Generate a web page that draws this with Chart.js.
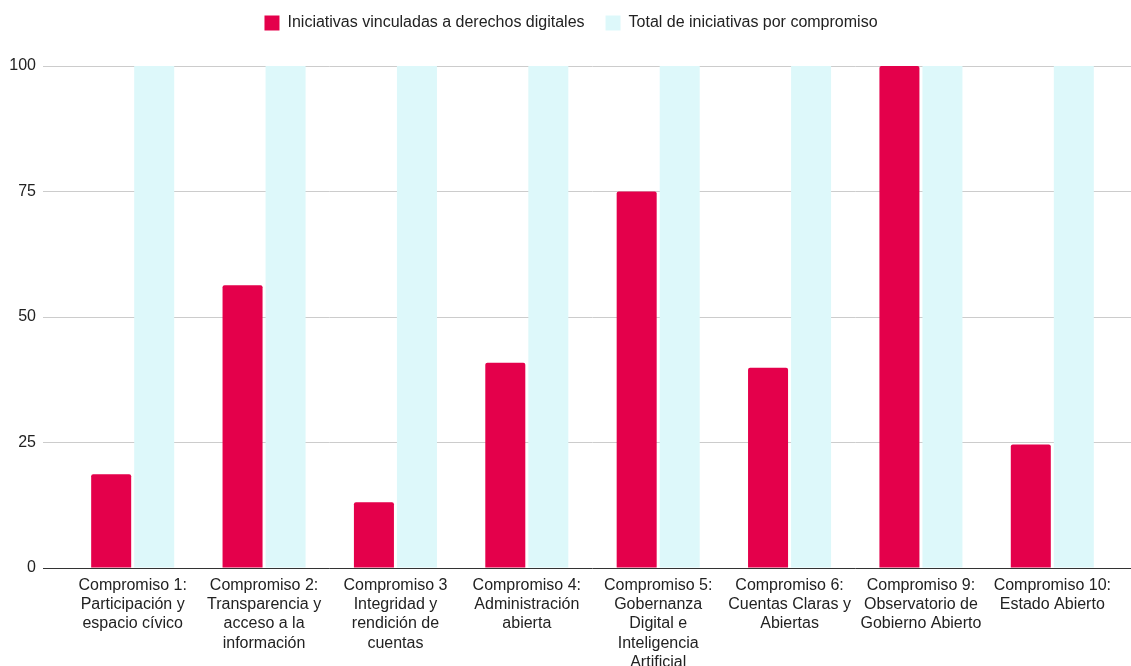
<!DOCTYPE html>
<html>
<head>
<meta charset="utf-8">
<script src="https://cdn.jsdelivr.net/npm/chart.js@4"></script>
<style>
  html, body { margin: 0; padding: 0; background: #fff; }
  #wrap { width: 1131px; height: 666px; position: relative; }
</style>
</head>
<body>
<div id="wrap"><canvas id="chart"></canvas></div>
<script>
const categories = [
  ["Compromiso 1:", "Participación y", "espacio cívico"],
  ["Compromiso 2:", "Transparencia y", "acceso a la", "información"],
  ["Compromiso 3", "Integridad y", "rendición de", "cuentas"],
  ["Compromiso 4:", "Administración", "abierta"],
  ["Compromiso 5:", "Gobernanza", "Digital e", "Inteligencia", "Artificial"],
  ["Compromiso 6:", "Cuentas Claras y", "Abiertas"],
  ["Compromiso 9:", "Observatorio de", "Gobierno Abierto"],
  ["Compromiso 10:", "Estado Abierto"]
];
const digitales = [18.7, 56.3, 13.1, 40.9, 75, 39.9, 100, 24.6];
const totales = [100, 100, 100, 100, 100, 100, 100, 100];
const yTicks = [0, 25, 50, 75, 100];

const gridColor = (v) => (v === 0 ? "#333333" : "#cccccc");

const extendGrid = {
  id: "extendGrid",
  beforeInit(chart) {
    // fixed legend band so the plot starts where the original does
    const fit = chart.legend.fit;
    chart.legend.fit = function () {
      fit.call(this);
      this.height = 66;
    };
  },
  afterUpdate(chart) {
    // nudge legend to sit like the original
    const lg = chart.legend;
    lg.left += 12;
    lg.right += 12;
    lg.top -= 6;
    lg.bottom -= 6;
    lg.adjustHitBoxes();
  },
  // google-style gridlines run past the plot area on the right
  beforeDatasetsDraw(chart) {
    const { ctx, chartArea, scales } = chart;
    ctx.save();
    ctx.lineWidth = 1;
    yTicks.forEach((v) => {
      const y = Math.round(scales.y.getPixelForValue(v) - 0.5) + 0.5;
      ctx.strokeStyle = gridColor(v);
      ctx.beginPath();
      ctx.moveTo(chartArea.right, y);
      ctx.lineTo(chart.width, y);
      ctx.stroke();
    });
    ctx.restore();
  },
};

Chart.defaults.font.family = "'Liberation Sans', Arial, sans-serif";
Chart.defaults.font.size = 16;
Chart.defaults.color = "#222222";

new Chart(document.getElementById("chart"), {
  type: "bar",
  data: {
    labels: categories,
    datasets: [
      {
        label: "Iniciativas vinculadas a derechos digitales",
        data: digitales,
        backgroundColor: "#e4004b",
        borderRadius: 2,
        categoryPercentage: 0.655,
        barPercentage: 0.93,
      },
      {
        label: "Total de iniciativas por compromiso",
        data: totales,
        backgroundColor: "#ddf8fa",
        borderRadius: 0,
        categoryPercentage: 0.655,
        barPercentage: 0.93,
      },
    ],
  },
  options: {
    responsive: true,
    maintainAspectRatio: false,
    animation: false,
    layout: { padding: { left: 0, right: 13, top: 0, bottom: 0 } },
    scales: {
      x: {
        grid: { display: false },
        border: { display: false },
        ticks: { padding: 0, maxRotation: 0, autoSkip: false, color: "#222" },
        afterFit(scale) {
          scale.height = 98;
        },
      },
      y: {
        min: 0,
        max: 100,
        afterBuildTicks(scale) {
          scale.ticks = yTicks.map((v) => ({ value: v }));
        },
        grid: {
          color: (c) => gridColor(c.tick.value),
          tickLength: 24,
        },
        border: { display: false },
        ticks: { padding: 7, color: "#222" },
        afterFit(scale) {
          scale.width = 67;
        },
      },
    },
    plugins: {
      legend: {
        position: "top",
        labels: {
          boxWidth: 15,
          boxHeight: 15,
          padding: 21,
          color: "#222",
        },
      },
      tooltip: { enabled: false },
    },
  },
  plugins: [extendGrid],
});
</script>
</body>
</html>
